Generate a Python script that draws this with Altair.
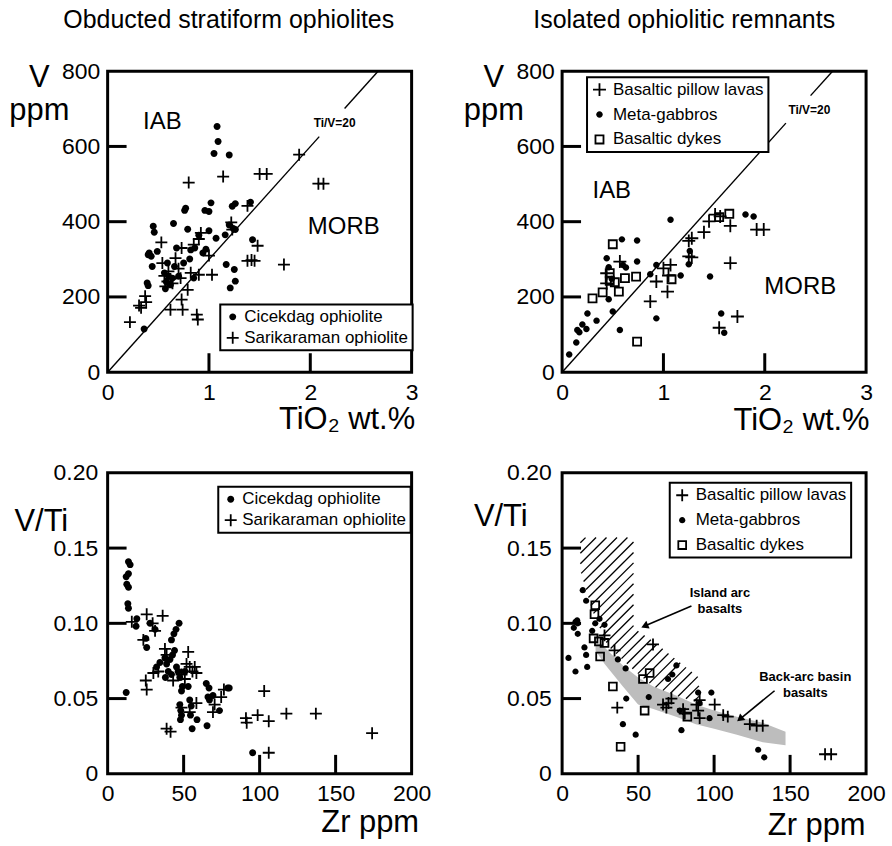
import math
import altair as alt
import numpy as np
import pandas as pd

FONT = "Liberation Sans"
W, H = 305, 302

# ---------------- data: top-left (TiO2 wt.% vs V ppm) ----------------
tl_cic_x = [1.08, 1.09, 1.05, 1.20, 0.77, 0.76, 1.02, 0.96, 1.00, 1.23, 1.26, 1.41, 0.65, 0.45, 0.46,
            0.79, 1.00, 0.90, 1.07, 1.16, 1.26, 1.24, 1.20, 0.82, 0.86, 0.97, 0.94, 0.41, 0.43, 0.40,
            0.49, 0.68, 0.59, 0.44, 0.81, 1.17, 1.25, 1.26, 1.21, 1.43, 0.39, 0.40, 0.36, 0.56, 0.60,
            0.64, 0.58, 0.62, 0.57, 0.66, 0.70, 0.85, 0.75]
tl_cic_y = [653, 613, 581, 577, 436, 430, 450, 430, 427, 441, 448, 452, 395, 388, 372,
            380, 376, 364, 356, 365, 379, 382, 391, 325, 330, 327, 317, 317, 308, 312,
            321, 330, 290, 281, 301, 286, 273, 242, 224, 352, 237, 230, 115, 264, 255,
            250, 240, 232, 222, 281, 255, 250, 290]
tl_sar_x = [0.22, 0.31, 0.33, 0.37, 0.38, 0.53, 0.80, 1.14, 1.50, 1.57, 1.89, 2.08, 2.13, 1.74, 1.38,
            1.48, 1.38, 1.42, 1.45, 1.22, 1.23, 0.92, 0.90, 0.85, 0.73, 0.67, 0.54, 1.00, 1.03, 0.90,
            0.82, 0.72, 0.56, 0.59, 0.57, 0.62, 0.64, 0.79, 0.62, 0.73, 0.74, 0.88, 0.89, 0.60, 0.70]
tl_sar_y = [133, 177, 171, 202, 186, 345, 504, 520, 527, 527, 578, 501, 501, 286, 442,
            336, 296, 298, 296, 398, 379, 370, 354, 339, 330, 303, 290, 310, 259, 259,
            264, 250, 256, 241, 228, 248, 236, 219, 166, 193, 166, 153, 140, 268, 275]

# ---------------- data: top-right ----------------
tr_pil_x = [0.57, 0.93, 0.87, 1.00, 1.07, 1.04, 1.05, 1.25, 1.28, 1.25, 1.28, 1.40, 1.45, 1.51, 1.56,
            1.66, 1.92, 1.99, 1.66, 1.73, 1.55, 0.44, 0.44]
tr_pil_y = [294, 241, 188, 276, 285, 214, 257, 349, 356, 308, 305, 372, 401, 419, 414,
            389, 379, 379, 290, 148, 118, 263, 236]
tr_gab_x = [0.07, 0.14, 0.15, 0.17, 0.20, 0.24, 0.25, 0.34, 0.46, 0.50, 0.57, 0.44, 0.46, 0.59, 0.74,
            0.74, 0.60, 0.63, 0.49, 0.93, 1.07, 0.87, 0.93, 1.17, 1.26, 1.25, 1.46, 1.57, 1.60, 1.81, 1.89]
tr_gab_y = [47, 79, 112, 106, 127, 115, 156, 137, 194, 161, 112, 303, 279, 353, 350,
            294, 285, 278, 248, 285, 405, 260, 143, 257, 322, 287, 254, 156, 105, 419, 414]
tr_dyk_x = [0.50, 0.30, 0.40, 0.47, 0.52, 0.56, 0.62, 0.73, 1.08, 0.74, 1.55, 1.65, 0.47]
tr_dyk_y = [340, 196, 212, 243, 239, 214, 250, 254, 247, 81, 412, 421, 263]

# ---------------- data: bottom-left (Zr ppm vs V/Ti) ----------------
bl_cic_x = [13.7, 14.8, 12.2, 13.7, 12.6, 13.7, 13.3, 13.7, 12.2, 19.2, 18.7, 25.1, 25.7, 27.9, 31.2,
            47, 45, 43.6, 42, 44, 42.7, 41, 37.7, 38.8, 39.9, 34.4, 32.2, 45.3, 46.4, 47.5,
            38, 42, 50.8, 49.2, 48.6, 47.5, 48.1, 48.6, 47.9, 55, 54, 55.6, 58.8, 64.9, 66.7,
            66, 67, 65.4, 73.6, 79, 80, 69.3, 95.4, 54.5, 53]
bl_cic_y = [0.141, 0.139, 0.131, 0.133, 0.126, 0.124, 0.113, 0.110, 0.054, 0.103, 0.098, 0.090, 0.084, 0.100, 0.096,
            0.100, 0.096, 0.093, 0.089, 0.082, 0.079, 0.076, 0.077, 0.073, 0.068, 0.074, 0.071, 0.071, 0.068, 0.064,
            0.064, 0.066, 0.068, 0.058, 0.055, 0.046, 0.042, 0.039, 0.036, 0.045, 0.049, 0.030, 0.036, 0.060, 0.057,
            0.051, 0.049, 0.032, 0.042, 0.057, 0.057, 0.052, 0.014, 0.039, 0.058]
bl_sar_x = [15.9, 25.7, 36.2, 23.5, 31.2, 29.6, 37.7, 25.7, 25.1, 30.1, 33.3, 38.8, 43.1, 48.6, 53,
            51.9, 54, 55.8, 58.4, 50.8, 57.3, 48.6, 58.4, 54, 38.8, 41.4, 69.3, 74.7, 76.5, 70.4,
            103, 91, 91.5, 98.7, 106, 106, 117.6, 137, 174]
bl_sar_y = [0.101, 0.106, 0.105, 0.089, 0.095, 0.100, 0.083, 0.056, 0.062, 0.067, 0.068, 0.079, 0.062, 0.066, 0.081,
            0.073, 0.071, 0.068, 0.067, 0.063, 0.071, 0.044, 0.047, 0.041, 0.030, 0.028, 0.041, 0.051, 0.056, 0.046,
            0.055, 0.037, 0.034, 0.039, 0.035, 0.014, 0.040, 0.040, 0.027]

# ---------------- data: bottom-right ----------------
br_gab_x = [4.2, 8.8, 8.8, 9.9, 10.3, 7.7, 10.3, 13.6, 15.8, 14.7, 15.8, 16.5, 19.8, 21.8, 24.6,
            27.9, 36.7, 41.8, 42.2, 40, 48.4, 57, 69.7, 72.5, 75.2, 78.5, 89.5, 90.5, 98.2, 97,
            129, 133, 77.4]
br_gab_y = [0.077, 0.068, 0.101, 0.102, 0.100, 0.097, 0.093, 0.122, 0.115, 0.084, 0.079, 0.071, 0.095, 0.100, 0.103,
            0.099, 0.076, 0.070, 0.050, 0.033, 0.026, 0.051, 0.063, 0.066, 0.072, 0.029, 0.054, 0.047, 0.054, 0.037,
            0.016, 0.011, 0.042]
br_pil_x = [36.3, 34.5, 27.9, 59.8, 66.4, 68.6, 70, 71.9, 79.6, 80.7, 88.4, 89.5, 90.5, 100.4, 106,
            109, 123.5, 128, 132, 173, 177, 90.5]
br_pil_y = [0.044, 0.082, 0.092, 0.086, 0.046, 0.044, 0.047, 0.050, 0.043, 0.040, 0.046, 0.042, 0.049, 0.046, 0.039,
            0.038, 0.033, 0.032, 0.032, 0.013, 0.013, 0.037]
br_dyk_x = [21.8, 21.3, 20.7, 24.2, 27.9, 25, 33.4, 38.5, 53.2, 57.6, 54.3, 82.4]
br_dyk_y = [0.112, 0.106, 0.090, 0.088, 0.087, 0.078, 0.058, 0.018, 0.063, 0.067, 0.042, 0.038]

# fields in the bottom-right panel
bab_x = [22, 28, 40, 50, 60, 75, 88, 100, 115, 132, 147]
bab_up = [0.088, 0.084, 0.072, 0.064, 0.058, 0.052, 0.046, 0.042, 0.038, 0.034, 0.028]
bab_lo = [0.082, 0.073, 0.058, 0.046, 0.043, 0.038, 0.033, 0.030, 0.026, 0.021, 0.019]
iab_x = [12, 20, 30, 47, 47.01, 60, 75, 90]
iab_up = [0.157, 0.157, 0.157, 0.157, 0.097, 0.088, 0.076, 0.064]
iab_lo = [0.135, 0.108, 0.085, 0.069, 0.069, 0.058, 0.052, 0.047]

TIV = 20.0
V_PER_TIO2 = 5995.0 / TIV  # V ppm per 1 wt.% TiO2 on the Ti/V = 20 line


# ---------------- symbol shapes (unit box -1..1) ----------------
def cross(h):
    return (f"M-1,-{h}L-{h},-{h}L-{h},-1L{h},-1L{h},-{h}L1,-{h}L1,{h}L{h},{h}L{h},1"
            f"L-{h},1L-{h},{h}L-1,{h}Z")


def ring_square(a, b):
    return f"M-{a},-{a}L{a},-{a}L{a},{a}L-{a},{a}ZM-{b},-{b}L-{b},{b}L{b},{b}L{b},-{b}Z"


def dot(r):
    return f"M-{r},0A{r},{r} 0 1,1 {r},0A{r},{r} 0 1,1 -{r},0Z"


xs_top = alt.Scale(domain=[0, 3], nice=False, zero=False)
ys_top = alt.Scale(domain=[0, 800], nice=False, zero=False)
xs_bot = alt.Scale(domain=[0, 200], nice=False, zero=False)
ys_bot = alt.Scale(domain=[0, 0.2], nice=False, zero=False)


def sdf(groups):
    rows = []
    for name, xs, ys in groups:
        rows += [{"x": a, "y": b, "series": name} for a, b in zip(xs, ys)]
    return pd.DataFrame(rows)


class Panel:
    def __init__(self, xsc, ysc, xvals, yvals, xtitle, ytitle, ytx, yty, xtx, xty, ylabpad, yexpr=None):
        self.xsc, self.ysc, self.xvals, self.yvals = xsc, ysc, xvals, yvals
        yax = dict(values=yvals, ticks=False, domain=False, grid=False, labelFont=FONT, labelFontSize=23,
                   labelColor="black", labelPadding=ylabpad, title=ytitle, titleFont=FONT, titleFontSize=31,
                   titleFontWeight="normal", titleColor="black", titleAngle=0, titleAlign="center",
                   titleBaseline="alphabetic", titleX=ytx, titleY=yty, titleLineHeight=33)
        if yexpr:
            yax["labelExpr"] = yexpr
        self.yax = alt.Axis(**yax)
        self.xax = alt.Axis(values=xvals, ticks=False, domain=False, grid=False, labelFont=FONT,
                            labelFontSize=23, labelColor="black", labelPadding=9, labelFlush=False,
                            title=xtitle, titleFont=FONT, titleFontSize=31, titleFontWeight="normal",
                            titleColor="black", titleAlign="right", titleBaseline="alphabetic",
                            titleX=xtx, titleY=xty)

    def X(self, f):
        return alt.X(f, scale=self.xsc, axis=self.xax)

    def Y(self, f):
        return alt.Y(f, scale=self.ysc, axis=self.yax)

    def points(self, df, domain, shapes, size, lx, ly, rowpad, pad, loff):
        leg = alt.Legend(title=None, orient="none", legendX=lx, legendY=ly, rowPadding=rowpad,
                         padding=pad, labelOffset=loff, labelLimit=300,
                         symbolSize=size, symbolFillColor="black", symbolStrokeWidth=0, symbolOpacity=1)
        return alt.Chart(df).mark_point(filled=True, color="black", opacity=1, strokeWidth=0, size=size).encode(
            x=self.X("x:Q"), y=self.Y("y:Q"),
            shape=alt.Shape("series:N", scale=alt.Scale(domain=domain, range=shapes), legend=leg))

    def ticks(self):
        yt = alt.Chart(pd.DataFrame({"v": self.yvals[1:-1]})).mark_rule(color="black", strokeWidth=3).encode(
            y=self.Y("v:Q"), x=alt.value(0), x2=alt.value(19))
        xt = alt.Chart(pd.DataFrame({"v": self.xvals[1:-1]})).mark_rule(color="black", strokeWidth=3).encode(
            x=self.X("v:Q"), y=alt.value(H), y2=alt.value(H - 19))
        return [yt, xt]

    def texts(self, rows, size, weight):
        df = pd.DataFrame(rows, columns=["t", "x", "y"])
        return alt.Chart(df).mark_text(font=FONT, fontSize=size, fontWeight=weight, color="black",
                                       baseline="middle", align="center").encode(
            x=self.X("x:Q"), y=self.Y("y:Q"), text="t:N")

    def segments(self, df, width):
        return alt.Chart(df).mark_rule(color="black", strokeWidth=width).encode(
            x=self.X("x:Q"), y=self.Y("y:Q"), x2="x2:Q", y2="y2:Q")

    def refline(self, lo_gap, hi_gap):
        segs = [(0, 0, lo_gap / V_PER_TIO2, lo_gap), (hi_gap / V_PER_TIO2, hi_gap, 800 / V_PER_TIO2, 800)]
        return self.segments(pd.DataFrame(segs, columns=["x", "y", "x2", "y2"]), 1.4)


def title(t, dx):
    return alt.TitleParams(t, font=FONT, fontSize=25, fontWeight="normal", color="black", anchor="middle",
                           frame="group", dx=dx, offset=7, baseline="alphabetic")


TOPX, TOPY = [0, 1, 2, 3], [0, 200, 400, 600, 800]
BOTX, BOTY = [0, 50, 100, 150, 200], [0, 0.05, 0.10, 0.15, 0.20]
YEXPR = "datum.value == 0 ? '0' : format(datum.value, '.2f')"

# ---- top-left panel ----
p = Panel(xs_top, ys_top, TOPX, TOPY, "TiO₂ wt.%", ["V", "ppm"], -69, 15, W + 3, 57, 8)
tl = alt.layer(
    p.refline(626, 701),
    p.texts([("IAB", 0.54, 665), ("MORB", 2.33, 386)], 24, "normal"),
    p.texts([("Ti/V=20", 2.24, 662)], 12, "bold"),
    *p.ticks(),
    p.points(sdf([("Cicekdag ophiolite", tl_cic_x, tl_cic_y), ("Sarikaraman ophiolite", tl_sar_x, tl_sar_y)]),
             ["Cicekdag ophiolite", "Sarikaraman ophiolite"], [dot(0.58), cross(0.15)], 144,
             113, 234, 3, 4, 3),
).properties(width=W, height=H, title=title("Obducted stratiform ophiolites", -31))

# ---- top-right panel ----
tr_dom = ["Basaltic pillow lavas", "Meta-gabbros", "Basaltic dykes"]
p = Panel(xs_top, ys_top, TOPX, TOPY, "TiO₂ wt.%", ["V", "ppm"], -69, 15, W + 3, 58, 8)
tr = alt.layer(
    p.refline(662, 735),
    p.texts([("IAB", 0.49, 481), ("MORB", 2.35, 226)], 24, "normal"),
    p.texts([("Ti/V=20", 2.44, 696)], 12, "bold"),
    *p.ticks(),
    p.points(sdf([(tr_dom[0], tr_pil_x, tr_pil_y), (tr_dom[1], tr_gab_x, tr_gab_y), (tr_dom[2], tr_dyk_x, tr_dyk_y)]),
             tr_dom, [cross(0.14), dot(0.5), ring_square(0.76, 0.48)], 169, 25, 6, 7, 4, 5),
).properties(width=W, height=H, title=title("Isolated ophiolitic remnants", -30))

# ---- bottom-left panel ----
p = Panel(xs_bot, ys_bot, BOTX, BOTY, "Zr ppm", "V/Ti", -67, 58, W + 7, 58, 10, YEXPR)
bl = alt.layer(
    *p.ticks(),
    p.points(sdf([("Cicekdag ophiolite", bl_cic_x, bl_cic_y), ("Sarikaraman ophiolite", bl_sar_x, bl_sar_y)]),
             ["Cicekdag ophiolite", "Sarikaraman ophiolite"], [dot(0.58), cross(0.15)], 144,
             111, 14, 3, 4, 3),
).properties(width=W, height=H)

# ---- bottom-right panel ----
p = Panel(xs_bot, ys_bot, BOTX, BOTY, "Zr ppm", "V/Ti", -62, 53, W - 1, 61, 11, YEXPR)
XS, YS = W / 200.0, H / 0.2
fx = np.linspace(iab_x[0], iab_x[-1], 3000)
fu = np.interp(fx, iab_x, iab_up) * YS
fl = np.interp(fx, iab_x, iab_lo) * YS
px = fx * XS
hatch = []
for c in np.arange(-70, 225, 10.5):
    ln = px + c
    idx = np.where((ln >= fl) & (ln <= fu))[0]
    if len(idx) > 1:
        a, b = idx[0], idx[-1]
        hatch.append((fx[a], ln[a] / YS, fx[b], ln[b] / YS))
hatch_df = pd.DataFrame(hatch, columns=["x", "y", "x2", "y2"])

band = alt.Chart(pd.DataFrame({"x": bab_x, "u": bab_up, "l": bab_lo})).mark_area(
    color="#bdbdbd", opacity=1).encode(x=p.X("x:Q"), y=p.Y("u:Q"), y2="l:Q")

arrows = [(85.1, 0.1115, 54.3, 0.0982), (139.8, 0.0552, 117.0, 0.0364)]
arr_rows = []
for x0, y0, x1, y1 in arrows:
    dxp = (x1 - x0) * XS
    dyp = -(y1 - y0) * YS
    ang = (math.degrees(math.atan2(dxp, -dyp)) + 360) % 360
    arr_rows.append({"x": x0, "y": y0, "x2": x1, "y2": y1, "ang": ang})
arr_df = pd.DataFrame(arr_rows)
arr_head = alt.Chart(arr_df).mark_point(shape="triangle-up", filled=True, color="black", opacity=1, size=70).encode(
    x=p.X("x2:Q"), y=p.Y("y2:Q"), angle=alt.Angle("ang:Q", scale=None))

br = alt.layer(
    band, p.segments(hatch_df, 1.3), p.segments(arr_df, 1.6), arr_head,
    p.texts([("Island arc", 103.8, 0.1203), ("basalts", 103.8, 0.1093),
             ("Back-arc basin", 160, 0.064), ("basalts", 160, 0.0536)], 13, "bold"),
    *p.ticks(),
    p.points(sdf([(tr_dom[0], br_pil_x, br_pil_y), (tr_dom[1], br_gab_x, br_gab_y), (tr_dom[2], br_dyk_x, br_dyk_y)]),
             tr_dom, [cross(0.15), dot(0.52), ring_square(0.8, 0.5)], 144, 108, 10, 7, 4, 5),
).properties(width=W, height=H)

chart = alt.concat(tl, tr, bl, br, columns=2, spacing={"row": 101, "column": 151}, bounds="flush").resolve_scale(
    shape="independent").properties(
    padding={"left": 7, "top": 5, "right": 5, "bottom": 5}, background="white"
).configure_view(stroke="black", strokeWidth=3).configure_legend(
    strokeColor="black", strokeWidth=2, labelFont=FONT, labelFontSize=17, labelColor="black",
    fillColor="white", cornerRadius=0
)

chart.save("out.html", embed_options={"renderer": "svg", "actions": False})
